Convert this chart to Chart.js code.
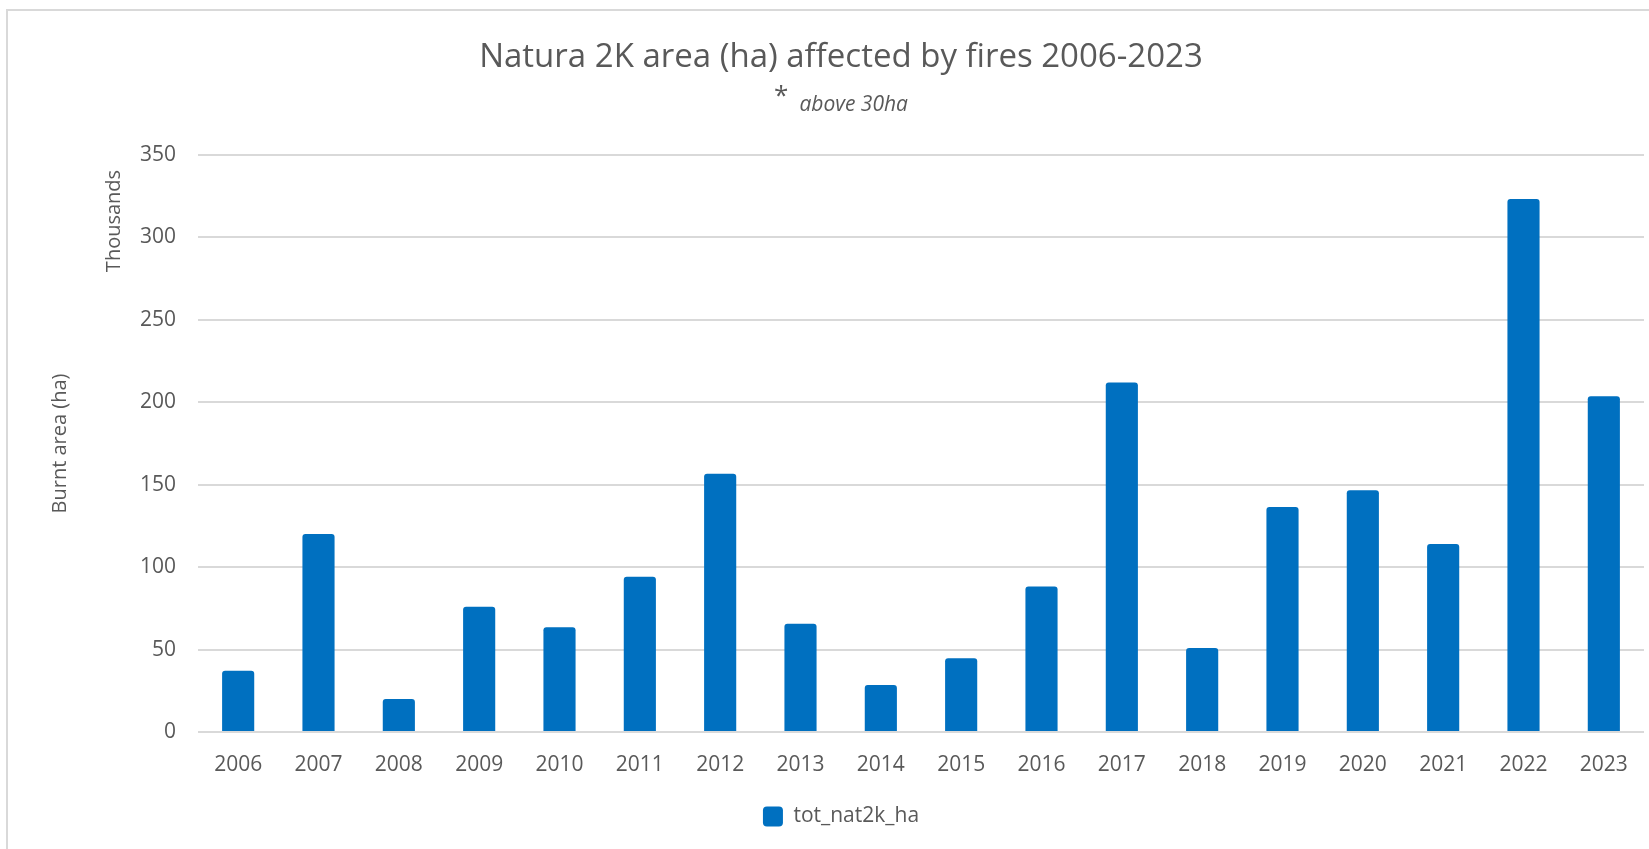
<!DOCTYPE html>
<html>
<head>
<meta charset="utf-8">
<script src="https://cdn.jsdelivr.net/npm/chart.js@4.4.1/dist/chart.umd.min.js"></script>
<style>
  html, body { margin: 0; padding: 0; background: #fff; overflow: hidden; }
  #wrap { position: relative; width: 1649px; height: 849px; overflow: hidden; }
  #frame { position: absolute; left: 6px; top: 9px; width: 1700px; height: 900px;
           border-left: 2px solid #d9d9d9; border-top: 2px solid #d9d9d9; }
  #chart { position: absolute; left: 0; top: 0; }
</style>
</head>
<body>
<div id="wrap">
  <div id="frame"></div>
  <canvas id="chart" width="1649" height="849"></canvas>
</div>
<script>
// burnt Natura 2000 area per year, in thousands of ha
const years = ["2006", "2007", "2008", "2009", "2010", "2011", "2012", "2013", "2014",
               "2015", "2016", "2017", "2018", "2019", "2020", "2021", "2022", "2023"];
const burntArea = [37.2, 120.1, 20.0, 76.0, 63.5, 94.1, 156.7, 65.7, 28.5,
                   44.7, 88.3, 212.0, 51.0, 136.5, 146.6, 114.1, 323.3, 203.7];
const yTicks = [0, 50, 100, 150, 200, 250, 300, 350];

const seriesName = "tot_nat2k_ha";
const titleText = "Natura 2K area (ha) affected by fires 2006-2023";
const noteMark = "*";
const noteText = "above 30ha";
const unitsText = "Thousands";
const yTitle = "Burnt area (ha)";

const textColor = "#595959";
const barColor = "#0070C0";
const gridColor = "#d9d9d9";
const fontFamily = "'Open Sans', 'Noto Sans', sans-serif";

// subtitle with a big asterisk + small italic text, and the display-units label
const extraText = {
  id: "extraText",
  afterDraw(chart) {
    const ctx = chart.ctx;
    const tb = chart.titleBlock;
    const cx = (tb.left + tb.right) / 2;
    ctx.save();
    ctx.fillStyle = textColor;
    ctx.textBaseline = "alphabetic";
    ctx.textAlign = "left";

    const markFont = "26px " + fontFamily;
    const noteFont = "italic 21px " + fontFamily;
    ctx.font = markFont;
    const wMark = ctx.measureText(noteMark).width;
    ctx.font = noteFont;
    const wNote = ctx.measureText(noteText).width;
    const gap = 11;
    const x0 = cx - (wMark + gap + wNote) / 2;
    ctx.font = markFont;
    ctx.fillText(noteMark, x0, 104);
    ctx.font = noteFont;
    ctx.fillText(noteText, x0 + wMark + gap, 111);

    // "Thousands" next to the top of the value axis
    const ys = chart.scales.y;
    ctx.font = "20px " + fontFamily;
    ctx.textAlign = "center";
    ctx.textBaseline = "middle";
    ctx.translate(ys.right - 84, chart.chartArea.top + 66);
    ctx.rotate(-Math.PI / 2);
    ctx.fillText(unitsText, 0, 0);
    ctx.restore();
  }
};

new Chart(document.getElementById("chart"), {
  type: "bar",
  data: {
    labels: years,
    datasets: [{
      label: seriesName,
      data: burntArea,
      backgroundColor: barColor,
      borderWidth: 0,
      borderRadius: { topLeft: 3, topRight: 3 },
      borderSkipped: "start",
      categoryPercentage: 1,
      barPercentage: 0.4
    }]
  },
  options: {
    responsive: false,
    animation: false,
    layout: { padding: { left: 38, right: 5, top: 0, bottom: 12 } },
    plugins: {
      title: {
        display: true,
        text: titleText,
        color: textColor,
        font: { family: fontFamily, size: 33, weight: "normal" },
        padding: { top: 38, bottom: 77.4 }
      },
      legend: {
        position: "bottom",
        labels: {
          color: textColor,
          font: { family: fontFamily, size: 21 },
          boxWidth: 20,
          boxHeight: 20,
          padding: 10,
          useBorderRadius: true,
          borderRadius: 4
        }
      },
      tooltip: { enabled: false }
    },
    scales: {
      x: {
        grid: { display: false, drawTicks: false },
        border: { display: false },
        ticks: {
          color: textColor,
          font: { family: fontFamily, size: 21 },
          padding: 20,
          maxRotation: 0
        },
        afterFit(scale) { scale.height = 64; }
      },
      y: {
        min: 0,
        max: 350,
        grid: { color: gridColor, lineWidth: 2, drawTicks: false },
        border: { display: false },
        afterBuildTicks(scale) { scale.ticks = yTicks.map(v => ({ value: v })); },
        ticks: {
          color: textColor,
          font: { family: fontFamily, size: 21 },
          padding: 22
        },
        title: {
          display: true,
          text: yTitle,
          color: textColor,
          font: { family: fontFamily, size: 20 },
          padding: { top: 10, bottom: 0 }
        },
        afterFit(scale) { scale.width = 160; }
      }
    }
  },
  plugins: [extraText]
});
</script>
</body>
</html>
